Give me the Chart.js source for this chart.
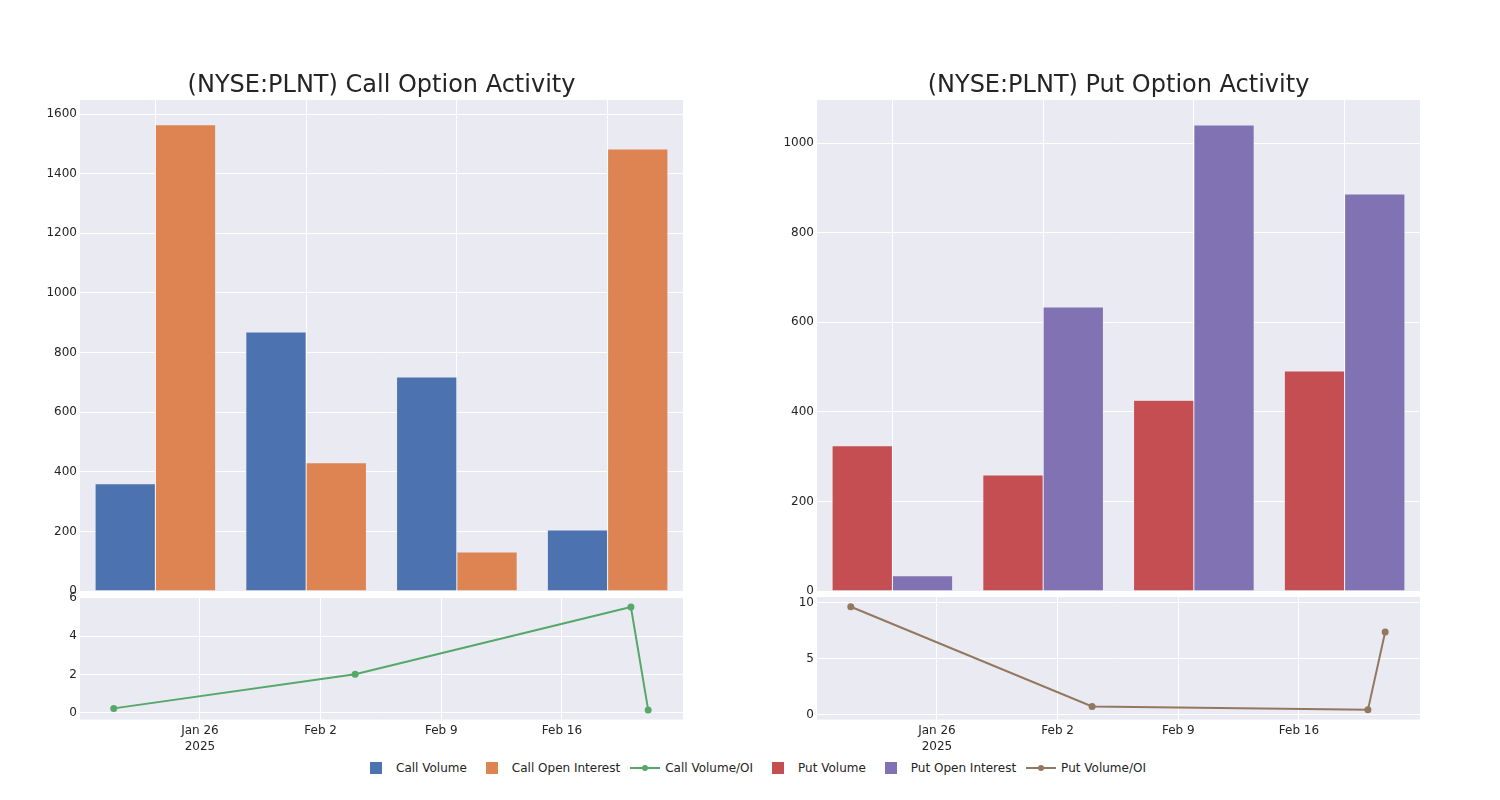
<!DOCTYPE html>
<html>
<head>
<meta charset="utf-8">
<script src="https://cdn.jsdelivr.net/npm/chart.js@4.4.1/dist/chart.umd.min.js"></script>
<style>
  body { margin: 0; background: #fff; font-family: "DejaVu Sans", sans-serif; }
  #page { position: relative; width: 1500px; height: 800px; overflow: hidden; }
  #page canvas { position: absolute; }
  #legend { position: absolute; left: 356px; top: 760px; display: flex; align-items: center;
            font-size: 12px; color: #242424; height: 16px; white-space: nowrap; }
  .item { display: flex; align-items: center; margin-right: 5px; }
  .icon { width: 40px; height: 16px; position: relative; }
  .sq { position: absolute; left: 14px; top: 2px; width: 12px; height: 12px; box-sizing: border-box; }
  .ln { position: absolute; left: 5px; top: 7px; width: 30px; height: 2px; }
  .dot { position: absolute; left: 17px; top: 5px; width: 6px; height: 6px; border-radius: 50%; }
</style>
</head>
<body>
<div id="page">
  <canvas id="callBars"></canvas>
  <canvas id="putBars"></canvas>
  <canvas id="callLine"></canvas>
  <canvas id="putLine"></canvas>
  <div id="legend"></div>
</div>
<script>
// ---- data ----
const dates = ['2025-01-21', '2025-02-04', '2025-02-20', '2025-02-21'];

const callVolume = [360, 869, 718, 205];
const callOpenInterest = [1564, 430, 131, 1483];
const callRatio = [0.24, 2.02, 5.53, 0.16];

const putVolume = [324, 259, 426, 491];
const putOpenInterest = [34, 634, 1040, 886];
const putRatio = [9.61, 0.72, 0.41, 7.35];

const callBarTicks = [0, 200, 400, 600, 800, 1000, 1200, 1400, 1600];
const putBarTicks = [0, 200, 400, 600, 800, 1000];
const callRatioTicks = [0, 2, 4, 6];
const putRatioTicks = [0, 5, 10];

const dateTicks = ['2025-01-26', '2025-02-02', '2025-02-09', '2025-02-16'];
const dateTickLabels = [['Jan 26', '2025'], 'Feb 2', 'Feb 9', 'Feb 16'];
const dateRange = ['2025-01-19T01:00:00Z', '2025-02-23T00:30:00Z'];

const COLORS = {
  callVol: '#4C72B0', callOI: '#DD8452', callRatio: '#55A868',
  putVol: '#C44E52', putOI: '#8172B3', putRatio: '#937860',
  bg: '#EAEAF2', grid: '#FFFFFF', text: '#242424'
};
const FONT = '"DejaVu Sans", sans-serif';

Chart.defaults.font.family = FONT;
Chart.defaults.color = COLORS.text;
Chart.defaults.animation = false;

const toDay = s => Date.parse(s.length > 10 ? s : s + 'T00:00:00Z') / 86400000;

const plotBg = {
  id: 'plotBg',
  beforeDraw(chart) {
    const { ctx, chartArea: a } = chart;
    ctx.save();
    ctx.fillStyle = COLORS.bg;
    ctx.fillRect(a.left, a.top, a.right - a.left, a.bottom - a.top);
    ctx.restore();
  }
};

function place(id, left, top, w, h) {
  const c = document.getElementById(id);
  c.style.left = left + 'px';
  c.style.top = top + 'px';
  c.width = w; c.height = h;
  c.style.width = w + 'px'; c.style.height = h + 'px';
  return c;
}

const yAxis = (ticks, min, max) => ({
  min: min, max: max,
  afterBuildTicks: s => { s.ticks = ticks.map(v => ({ value: v })); },
  ticks: { padding: 3, font: { size: 12 }, color: COLORS.text, callback: v => String(v) },
  grid: { color: COLORS.grid, lineWidth: 1, drawTicks: false },
  border: { display: false },
  afterFit: s => { s.width = 80; }
});

function barChart(id, left, title, vol, oi, volLabel, oiLabel, volColor, oiColor, ticks, yMax) {
  const canvas = place(id, left, 66, 763, 540);
  return new Chart(canvas, {
    type: 'bar',
    data: {
      labels: dates,
      datasets: [
        { label: volLabel, data: vol, backgroundColor: volColor, borderColor: COLORS.bg, borderWidth: 0.5 },
        { label: oiLabel, data: oi, backgroundColor: oiColor, borderColor: COLORS.bg, borderWidth: 0.5 }
      ]
    },
    options: {
      responsive: false,
      layout: { padding: { top: 0, right: 80, bottom: 15, left: 0 } },
      categoryPercentage: 0.8,
      barPercentage: 1.0,
      plugins: {
        legend: { display: false },
        tooltip: { enabled: false },
        title: {
          display: true, text: title, color: COLORS.text, fullSize: false,
          font: { family: FONT, size: 24, weight: 'normal' },
          padding: { top: 5, bottom: 0.2 }
        }
      },
      scales: {
        x: {
          ticks: { display: false },
          grid: { color: COLORS.grid, lineWidth: 1, offset: false, drawTicks: false },
          border: { display: false },
          afterFit: s => { s.height = 0; }
        },
        y: yAxis(ticks, 0, yMax)
      }
    },
    plugins: [plotBg]
  });
}

function lineChart(id, left, values, label, color, ticks, yMin, yMax) {
  const canvas = place(id, left, 585, 763, 175);
  return new Chart(canvas, {
    type: 'line',
    data: {
      datasets: [{
        label: label,
        data: dates.map((d, i) => ({ x: toDay(d), y: values[i] })),
        borderColor: color, backgroundColor: color,
        borderWidth: 2, pointRadius: 3.5, pointBorderWidth: 0,
        pointBackgroundColor: color, tension: 0
      }]
    },
    options: {
      responsive: false,
      layout: { padding: { top: 12, right: 80, bottom: 0, left: 0 } },
      plugins: { legend: { display: false }, tooltip: { enabled: false } },
      scales: {
        x: {
          type: 'linear',
          min: toDay(dateRange[0]), max: toDay(dateRange[1]),
          afterBuildTicks: s => { s.ticks = dateTicks.map(d => ({ value: toDay(d) })); },
          ticks: {
            autoSkip: false, maxRotation: 0, padding: 3,
            font: { size: 12, lineHeight: 1.35 }, color: COLORS.text,
            callback: (v, i) => dateTickLabels[i]
          },
          grid: { color: COLORS.grid, lineWidth: 1, drawTicks: false },
          border: { display: false },
          afterFit: s => { s.height = 40.5; }
        },
        y: yAxis(ticks, yMin, yMax)
      }
    },
    plugins: [plotBg]
  });
}

barChart('callBars', 0, '(NYSE:PLNT) Call Option Activity', callVolume, callOpenInterest,
  'Call Volume', 'Call Open Interest', COLORS.callVol, COLORS.callOI, callBarTicks, 1647);
barChart('putBars', 737, '(NYSE:PLNT) Put Option Activity', putVolume, putOpenInterest,
  'Put Volume', 'Put Open Interest', COLORS.putVol, COLORS.putOI, putBarTicks, 1096);
lineChart('callLine', 0, callRatio, 'Call Volume/OI', COLORS.callRatio, callRatioTicks, -0.34, 6.05);
lineChart('putLine', 737, putRatio, 'Put Volume/OI', COLORS.putRatio, putRatioTicks, -0.45, 10.48);

// legend
const legendItems = [
  { label: 'Call Volume', color: COLORS.callVol, kind: 'bar' },
  { label: 'Call Open Interest', color: COLORS.callOI, kind: 'bar' },
  { label: 'Call Volume/OI', color: COLORS.callRatio, kind: 'line' },
  { label: 'Put Volume', color: COLORS.putVol, kind: 'bar' },
  { label: 'Put Open Interest', color: COLORS.putOI, kind: 'bar' },
  { label: 'Put Volume/OI', color: COLORS.putRatio, kind: 'line' }
];
const legend = document.getElementById('legend');
legendItems.forEach(it => {
  const item = document.createElement('div');
  item.className = 'item';
  const icon = document.createElement('div');
  icon.className = 'icon';
  if (it.kind === 'bar') {
    icon.innerHTML = `<div class="sq" style="background:${it.color}"></div>`;
  } else {
    icon.innerHTML = `<div class="ln" style="background:${it.color}"></div><div class="dot" style="background:${it.color}"></div>`;
  }
  const text = document.createElement('span');
  text.textContent = it.label;
  item.appendChild(icon);
  item.appendChild(text);
  legend.appendChild(item);
});
</script>
</body>
</html>
